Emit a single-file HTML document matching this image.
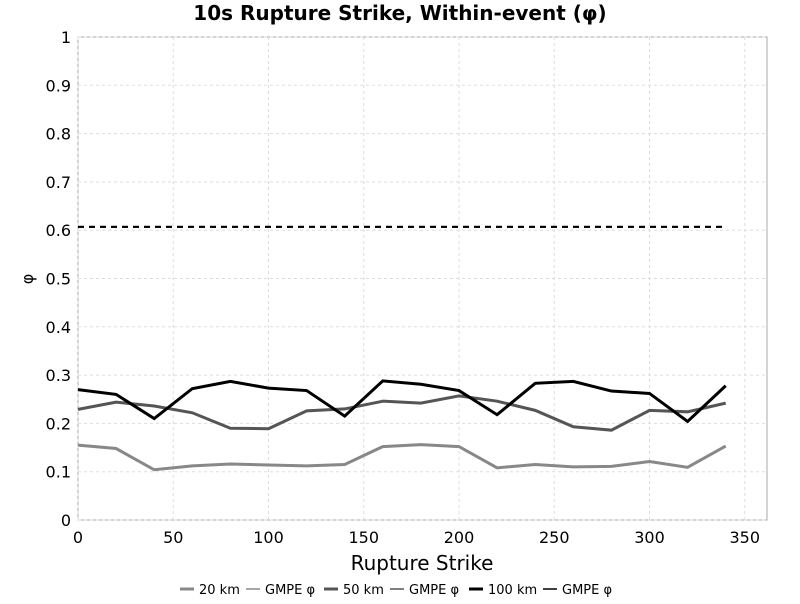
<!DOCTYPE html>
<html><head><meta charset="utf-8"><style>
body{margin:0;background:#fff;font-family:"DejaVu Sans","Liberation Sans",sans-serif;}
</style></head><body>
<svg id="chart" width="800" height="600" xmlns="http://www.w3.org/2000/svg">
<text x="400" y="20" text-anchor="middle" font-size="20" font-weight="bold" font-family="DejaVu Sans, sans-serif">10s Rupture Strike, Within-event (φ)</text>
<rect x="78" y="37" width="689" height="483" fill="#fff" stroke="#aaa"/>
<g id="grid"></g><g id="axes"></g><g id="series"></g>
<text x="422" y="570" text-anchor="middle" font-size="20" font-family="DejaVu Sans, sans-serif">Rupture Strike</text>
<text transform="translate(33,279) rotate(-90)" text-anchor="middle" font-size="16" font-family="DejaVu Sans, sans-serif">φ</text>
<g id="legend" font-size="13" font-family="DejaVu Sans, sans-serif"></g>
</svg>
<script>
const strikes=[0,20,40,60,80,100,120,140,160,180,200,220,240,260,280,300,320,340];
const km20=[0.155,0.148,0.104,0.112,0.116,0.114,0.112,0.115,0.152,0.156,0.152,0.108,0.115,0.110,0.111,0.121,0.109,0.153];
const km50=[0.229,0.244,0.236,0.222,0.190,0.189,0.226,0.230,0.246,0.242,0.257,0.246,0.227,0.193,0.186,0.227,0.224,0.242];
const km100=[0.270,0.260,0.210,0.272,0.287,0.273,0.268,0.215,0.288,0.281,0.268,0.218,0.283,0.287,0.267,0.262,0.204,0.278];
const gmpe20=0.607, gmpe50=0.607, gmpe100=0.607;
const xTicks=[0,50,100,150,200,250,300,350];
const yTicks=[0,0.1,0.2,0.3,0.4,0.5,0.6,0.7,0.8,0.9,1];
const NS='http://www.w3.org/2000/svg';
const X=v=>78+v*1.905, Y=v=>520-v*483;
function mk(t,a,p){const e=document.createElementNS(NS,t);for(const k in a)e.setAttribute(k,a[k]);document.getElementById(p).appendChild(e);return e;}
xTicks.forEach(t=>{
 const g=mk('line',{x1:X(t),x2:X(t),y1:37,y2:520,stroke:'#ddd','stroke-dasharray':'3,3'},'grid');
 
 
 const l=mk('text',{x:X(t),y:543,'text-anchor':'middle','font-size':16},'axes');l.textContent=t;
 
 
});
yTicks.forEach(t=>{
 const g=mk('line',{x1:78,x2:767,y1:Y(t),y2:Y(t),stroke:'#ddd','stroke-dasharray':'3,3'},'grid');
 
 
 const l=mk('text',{x:71,y:Y(t)+6,'text-anchor':'end','font-size':16},'axes');l.textContent=String(+t.toFixed(1));
 
 
});
function line(vals,color,name){
 const p=mk('polyline',{points:strikes.map((s,i)=>X(s)+','+Y(vals[i])).join(' '),fill:'none',stroke:color,'stroke-width':3},'series');
 
 
}
function gm(v,color,name){
 const p=mk('line',{x1:X(strikes[0]),x2:X(strikes[strikes.length-1]),y1:Y(v),y2:Y(v),stroke:color,'stroke-width':2,'stroke-dasharray':'6,5'},'series');
 
 
}
gm(gmpe20,'#888','gmpe-20km-line');gm(gmpe50,'#555','gmpe-50km-line');gm(gmpe100,'#000','gmpe-100km-line');
line(km20,'#888','series-20km');line(km50,'#555','series-50km');line(km100,'#000','series-100km');
const leg=[['20 km','#888',0,180],['GMPE φ','#888',1,246],['50 km','#555',0,324],['GMPE φ','#555',1,390],['100 km','#000',0,469],['GMPE φ','#000',1,543]];
leg.forEach(([t,c,d,x])=>{
 const l=mk('line',{x1:x,x2:x+14,y1:589,y2:589,stroke:c,'stroke-width':d?1.5:3},'legend');
 
 
 const tx=mk('text',{x:x+19,y:594},'legend');tx.textContent=t;
 
 
});
</script>
</body></html>
